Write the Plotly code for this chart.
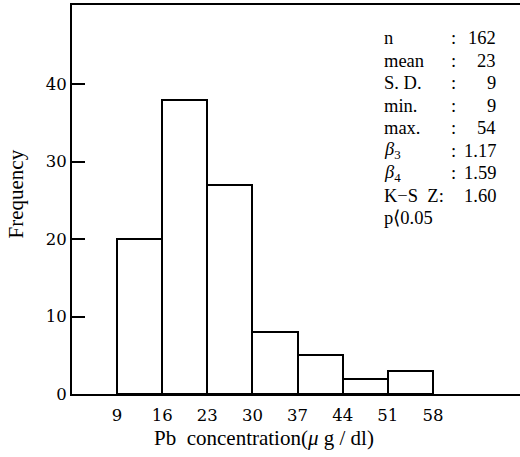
import plotly.graph_objects as go

bin_edges = [9, 16, 23, 30, 37, 44, 51, 58]
frequencies = [20, 38, 27, 8, 5, 2, 3]
x_ticks = [9, 16, 23, 30, 37, 44, 51, 58]
y_ticks = [0, 10, 20, 30, 40]
x_title = "Pb  concentration(<i>μ</i> g / dl)"
y_title = "Frequency"

stat_labels = ["n", "mean", "S. D.", "min.", "max.", "<i>β</i><sub>3</sub>", "<i>β</i><sub>4</sub>", "K−S  Z:", "p⟨0.05"]
stat_colons = [":", ":", ":", ":", ":", ":", ":", "", ""]
stat_values = ["162", "23", "9", "9", "54", "1.17", "1.59", "1.60", ""]

centers = [(a + b) / 2 for a, b in zip(bin_edges[:-1], bin_edges[1:])]
widths = [b - a for a, b in zip(bin_edges[:-1], bin_edges[1:])]

FONT = "Liberation Serif"
TICKFONT = "DejaVu Serif"
W, H = 520, 457
L, R, T, B = 72, 0, 5, 63

fig = go.Figure()
fig.add_trace(go.Bar(
    x=centers, y=frequencies, width=widths,
    marker=dict(color="white", line=dict(color="black", width=2)),
    showlegend=False,
))

pw = W - L - R
ph = H - T - B

def px(x):
    return (x - L) / pw

def py(y):
    return 1 - (y - T) / ph

SZ = 18.5
ys = [38, 60.5, 83, 105.5, 128, 150.5, 173, 195.5, 218]
ann = []
for i, (lab, col, val) in enumerate(zip(stat_labels, stat_colons, stat_values)):
    y = py(ys[i])
    ann.append(dict(x=px(382), y=y, xref="paper", yref="paper", text=lab,
                    showarrow=False, xanchor="left", yanchor="middle",
                    font=dict(family=FONT, size=SZ, color="black")))
    if col:
        ann.append(dict(x=px(453), y=y, xref="paper", yref="paper", text=col,
                        showarrow=False, xanchor="center", yanchor="middle",
                        font=dict(family=FONT, size=SZ, color="black")))
    if val:
        ann.append(dict(x=px(498), y=y, xref="paper", yref="paper", text=val,
                        showarrow=False, xanchor="right", yanchor="middle",
                        font=dict(family=FONT, size=SZ, color="black")))

# axis titles (positioned as in the reference, off-centre)
ann.append(dict(x=px(264), y=py(438), xref="paper", yref="paper", text=x_title,
                showarrow=False, xanchor="center", yanchor="middle",
                font=dict(family=FONT, size=21, color="black")))
ann.append(dict(x=px(15), y=py(194.5), xref="paper", yref="paper", text=y_title,
                showarrow=False, xanchor="center", yanchor="middle", textangle=-90,
                font=dict(family=FONT, size=21, color="black")))

fig.update_layout(
    width=W, height=H,
    margin=dict(l=L, r=R, t=T, b=B),
    paper_bgcolor="white", plot_bgcolor="white",
    font=dict(family=FONT, size=SZ, color="black"),
    bargap=0,
    annotations=ann,
    xaxis=dict(
        range=[2, 71.5], tickvals=x_ticks, ticktext=[str(v) for v in x_ticks],
        ticks="inside", ticklen=13, tickwidth=2, tickcolor="black",
        showline=True, linecolor="black", linewidth=2, mirror=True,
        showgrid=False, zeroline=False,
        tickfont=dict(family=TICKFONT, size=16.5),
        ticklabelstandoff=5,
    ),
    yaxis=dict(
        range=[0, 50.2], tickvals=y_ticks, ticktext=[str(v) for v in y_ticks],
        ticks="inside", ticklen=13, tickwidth=2, tickcolor="black",
        showline=True, linecolor="black", linewidth=2,
        showgrid=False, zeroline=False,
        tickfont=dict(family=TICKFONT, size=16.5),
    ),
)

fig.write_html("out.html")
